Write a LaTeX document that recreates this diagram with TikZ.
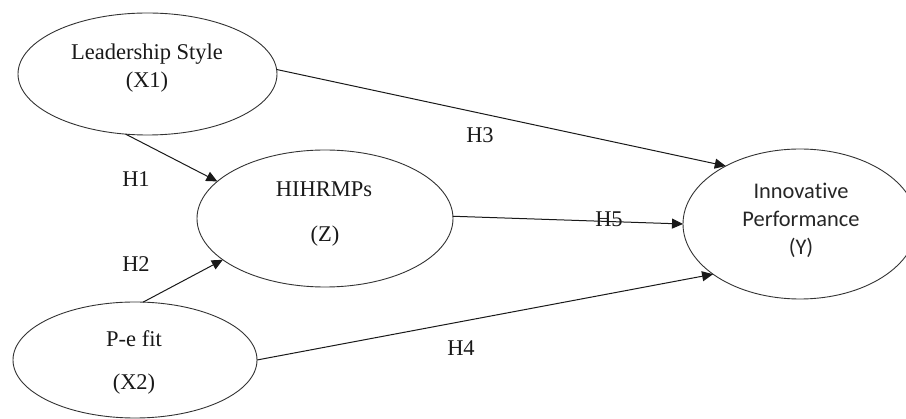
\documentclass[tikz,border=0pt]{standalone}
\usepackage{fontspec}
\setmainfont{Liberation Serif}
\newfontfamily\calfont[Ligatures=NoCommon]{Carlito}
\usetikzlibrary{shapes.geometric,arrows.meta}
\begin{document}
\begin{tikzpicture}[x=1pt,y=-1pt,
  latent/.style={ellipse,draw=black!80,line width=0.9pt,inner sep=0pt,outer sep=0pt},
  txt/.style={anchor=base,inner sep=0pt,text=black!90,font=\fontsize{22.5}{27}\selectfont},
  ytxt/.style={anchor=base,inner sep=0pt,text=black!85,font=\calfont\fontsize{22.4}{27}\selectfont},
  conn/.style={draw=black!90,line width=1pt,-{Triangle[length=11pt,width=10pt]}}]
\useasboundingbox (0,0) rectangle (906,419);
% ellipses
\node[latent,minimum width=259pt,minimum height=122pt] (X1) at (147.5,74) {};
\node[latent,minimum width=256pt,minimum height=137pt] (Z) at (325,218.5) {};
\node[latent,minimum width=234pt,minimum height=150pt] (Y) at (800,224) {};
\node[latent,minimum width=244pt,minimum height=116pt] (X2) at (135,360) {};
% texts
\node[txt] (t1a) at (147,60) {Leadership Style};
\node[txt] (t1b) at (147,88) {(X1)};
\node[txt] (tza) at (324,197) {HIHRMPs};
\node[txt] (tzb) at (325,242) {(Z)};
\node[txt] (t2a) at (134,347) {P-e fit};
\node[txt] (t2b) at (134,390) {(X2)};
\node[ytxt] (tya) at (801,199) {Innovative};
\node[ytxt] (tyb) at (801,227) {Performance};
\node[ytxt] (tyc) at (801,255) {(Y)};
% connectors
\draw[conn] (X1.-110) -- (Z.161);
\draw[conn] (X2.82) -- (Z.-158);
\draw[conn] (X1.2) -- (Y.142);
\draw[conn] (Z.1) -- (Y.180);
\draw[conn] (X2.0) -- (Y.-150);
% hypothesis labels
\node[txt] (h1) at (136,187) {H1};
\node[txt] (h2) at (136,272) {H2};
\node[txt] (h3) at (480,143) {H3};
\node[txt] (h4) at (461,356) {H4};
\node[txt] (h5) at (609,227) {H5};
\end{tikzpicture}
\end{document}
